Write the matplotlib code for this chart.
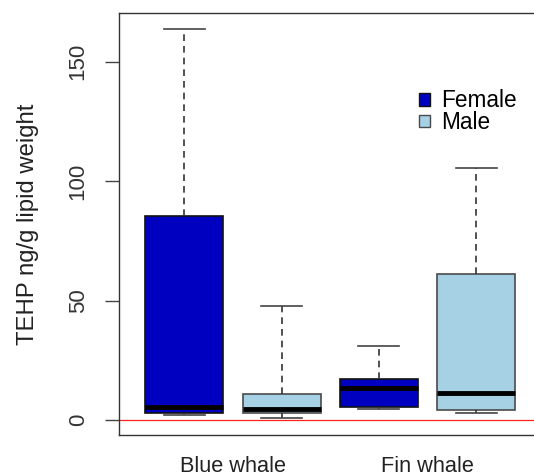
import matplotlib.pyplot as plt

plt.rcParams['font.family'] = ['Liberation Sans', 'DejaVu Sans']

# Box statistics (ng/g lipid weight)
groups = ['Blue whale', 'Fin whale']
sexes = ['Female', 'Male']
whislo = [2.2, 0.8, 4.7, 2.8]
q1 = [2.8, 2.8, 5.6, 4.2]
med = [5.6, 4.7, 13.4, 11.4]
q3 = [85.5, 10.9, 17.3, 60.9]
whishi = [163.5, 47.6, 30.9, 105.4]
fills = ['#0000c0', '#a6d0e4']
edges = ['#111111', '#4a4a4a']

stats = []
for i in range(4):
    stats.append(dict(whislo=whislo[i], q1=q1[i], med=med[i], q3=q3[i],
                      whishi=whishi[i], fliers=[]))

fig = plt.figure(figsize=(5.34, 4.74), dpi=100)
ax = fig.add_axes([0.2234, 0.0829, 0.790, 0.889])

positions = [1, 2, 3, 4]
b = ax.bxp(stats, positions=positions, widths=0.8, capwidths=0.42,
           patch_artist=True, showfliers=False,
           medianprops=dict(color='black', linewidth=3.5, solid_capstyle='butt'),
           whiskerprops=dict(color='#333333', linestyle=(0, (4, 3)), linewidth=1.2),
           capprops=dict(color='#444444', linewidth=1.2))
for i, box in enumerate(b['boxes']):
    box.set_facecolor(fills[i % 2])
    box.set_edgecolor(edges[i % 2])
    box.set_linewidth(1.2)

ax.axhline(0, color='#ff2020', linewidth=0.9, zorder=0)

ax.set_xlim(0.331, 4.669)
ax.set_ylim(-6.15, 170.2)
ax.set_yticks([0, 50, 100, 150])
ax.set_yticklabels(['0', '50', '100', '150'], rotation=90, va='center',
                   fontsize=16, color='#333333')
ax.tick_params(axis='y', length=10, width=1, color='#444444', pad=12)
ax.set_xticks([1.5, 3.5])
ax.set_xticklabels(groups, fontsize=15.7, color='#222222')
ax.tick_params(axis='x', length=0, pad=15)
ax.set_ylabel('TEHP ng/g lipid weight', fontsize=17.2, color='#222222', labelpad=21)
for s in ax.spines.values():
    s.set_color('#333333')
    s.set_linewidth(1)

handles = [plt.Rectangle((0, 0), 1, 1, facecolor=fills[k], edgecolor=edges[k])
           for k in range(2)]
ax.legend(handles, sexes, loc='upper left', bbox_to_anchor=(0.71, 0.82),
          frameon=False, fontsize=16.3, handlelength=0.5, handleheight=0.5,
          handletextpad=0.5, labelspacing=-0.05, borderaxespad=0,
          borderpad=0)

fig.savefig('out.png', dpi=100)
